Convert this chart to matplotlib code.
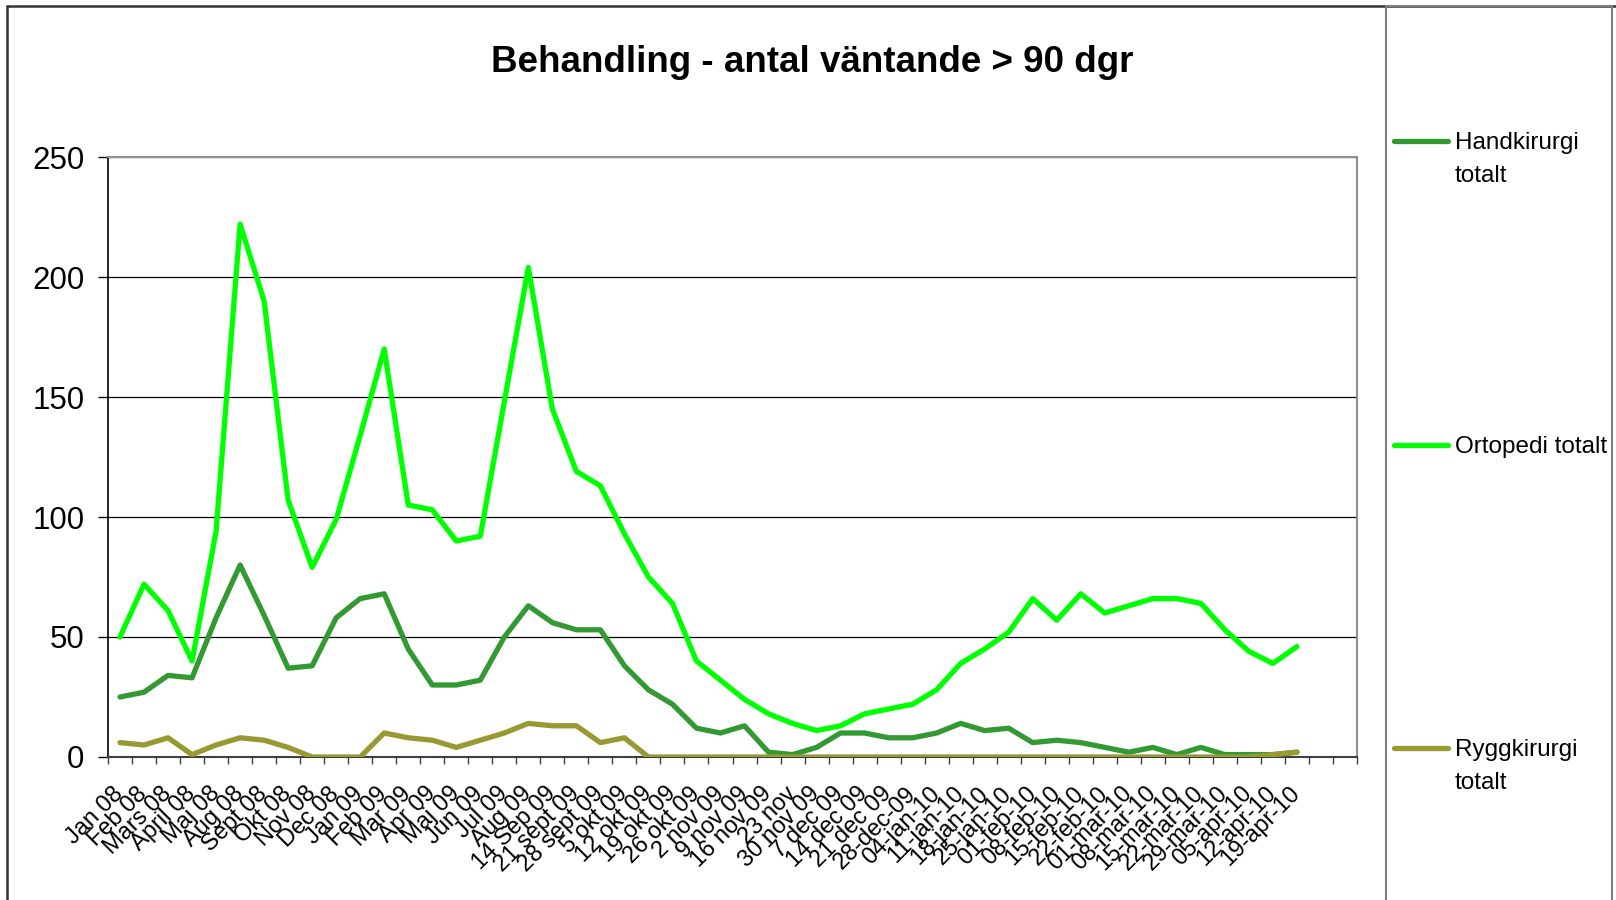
import numpy as np
import matplotlib.pyplot as plt
from matplotlib.lines import Line2D
from matplotlib.patches import Rectangle

plt.rcParams['font.family'] = ['Liberation Sans', 'DejaVu Sans']

# --- data -------------------------------------------------------------
labels = ['Jan 08', 'Feb 08', 'Mars 08', 'April 08', 'Maj 08', 'Aug 08',
          'Sept 08', 'Okt 08', 'Nov 08', 'Dec 08', 'Jan 09', 'Feb 09',
          'Mar 09', 'Apr 09', 'Maj 09', 'Jun 09', 'Jul 09', 'Aug 09',
          '14 Sep 09', '21 sept 09', '28 sept 09', '5 okt 09', '12 okt 09',
          '19 okt 09', '26 okt 09', '2 nov 09', '9 nov 09', '16 nov 09',
          '23 nov', '30 nov 09', '7 dec 09', '14 dec 09', '21 dec 09',
          '28-dec-09', '04-jan-10', '11-jan-10', '18-jan-10', '25-jan-10',
          '01-feb-10', '08-feb-10', '15-feb-10', '22-feb-10', '01-mar-10',
          '08-mar-10', '15-mar-10', '22-mar-10', '29-mar-10', '05-apr-10',
          '12-apr-10', '19-apr-10', '', '']

handkirurgi = [25, 27, 34, 33, 58, 80, 59, 37, 38, 58,
               66, 68, 45, 30, 30, 32, 50, 63, 56, 53,
               53, 38, 28, 22, 12, 10, 13, 2, 1, 4,
               10, 10, 8, 8, 10, 14, 11, 12, 6, 7,
               6, 4, 2, 4, 1, 4, 1, 1, 1, 2]
ortopedi = [50, 72, 61, 40, 94, 222, 190, 107, 79, 99,
            134, 170, 105, 103, 90, 92, 148, 204, 145, 119,
            113, 93, 75, 64, 40, 32, 24, 18, 14, 11,
            13, 18, 20, 22, 28, 39, 45, 52, 66, 57,
            68, 60, 63, 66, 66, 64, 53, 44, 39, 46]
ryggkirurgi = [6, 5, 8, 1, 5, 8, 7, 4, 0, 0,
               0, 10, 8, 7, 4, 7, 10, 14, 13, 13,
               6, 8] + [0] * 26 + [1, 2]

series = [('Handkirurgi\ntotalt', handkirurgi, '#339933'),
          ('Ortopedi totalt', ortopedi, '#00FF00'),
          ('Ryggkirurgi\ntotalt', ryggkirurgi, '#999933')]

# --- figure -----------------------------------------------------------
W, H = 1616, 900
fig = plt.figure(figsize=(W / 100, H / 100), dpi=100, facecolor='w')
ax = fig.add_axes([108 / W, 1 - 757 / H, (1357 - 108) / W, 600 / H])

x = np.arange(len(labels))
for name, vals, color in series:
    y = np.full(len(labels), np.nan)
    y[:len(vals)] = vals
    ax.plot(x, y, color=color, lw=3.8, solid_joinstyle='round',
            solid_capstyle='round', label=name, zorder=3)

ax.set_xlim(-0.5, len(labels) - 0.5)
ax.set_ylim(0, 250)
ax.set_yticks(np.arange(0, 251, 50))
ax.yaxis.grid(True, color='black', lw=0.9)
ax.set_axisbelow(True)

ax.set_xticks(x)
ax.set_xticklabels(labels, rotation=45, ha='right', va='center',
                   rotation_mode='anchor', fontsize=17)
ax.set_xticks(np.arange(-0.5, len(labels), 1), minor=True)
ax.tick_params(axis='x', which='major', length=0, pad=24)
ax.tick_params(axis='x', which='minor', length=5, width=1, color='#404040',
               direction='out')
ax.tick_params(axis='y', length=7, width=1, direction='out', pad=10,
               labelsize=22.5)

for side in ('top', 'right'):
    ax.spines[side].set_color('#909090')
    ax.spines[side].set_linewidth(1.5)
ax.spines['left'].set_color('black')
ax.spines['left'].set_linewidth(1.2)
ax.spines['bottom'].set_color('#404040')
ax.spines['bottom'].set_linewidth(1.5)

fig.text(812 / W, 1 - 62 / H, 'Behandling - antal väntande > 90 dgr',
         ha='center', va='center', fontsize=26.5, fontweight='bold')

# outer chart border and legend box
fig.add_artist(Rectangle((7 / W, -0.1), 1.2, 1 - 6 / H + 0.1,
                         transform=fig.transFigure, fill=False,
                         ec='#333333', lw=1.8))
fig.add_artist(Rectangle((1386 / W, -0.1), (1612 - 1386) / W, 1 - 6 / H + 0.1,
                         transform=fig.transFigure, fill=False,
                         ec='#808080', lw=1.5))

# legend
leg_y = [141, 445, 748]
for (name, vals, color), yy in zip(series, leg_y):
    fy = 1 - yy / H
    fig.add_artist(Line2D([1394 / W, 1448 / W], [fy, fy], color=color,
                          lw=3.8, solid_capstyle='round'))
    fig.text(1455 / W, fy + 9 / H, name, ha='left', va='top',
             fontsize=17.5, linespacing=1.65)

fig.savefig('out.png', dpi=100)
